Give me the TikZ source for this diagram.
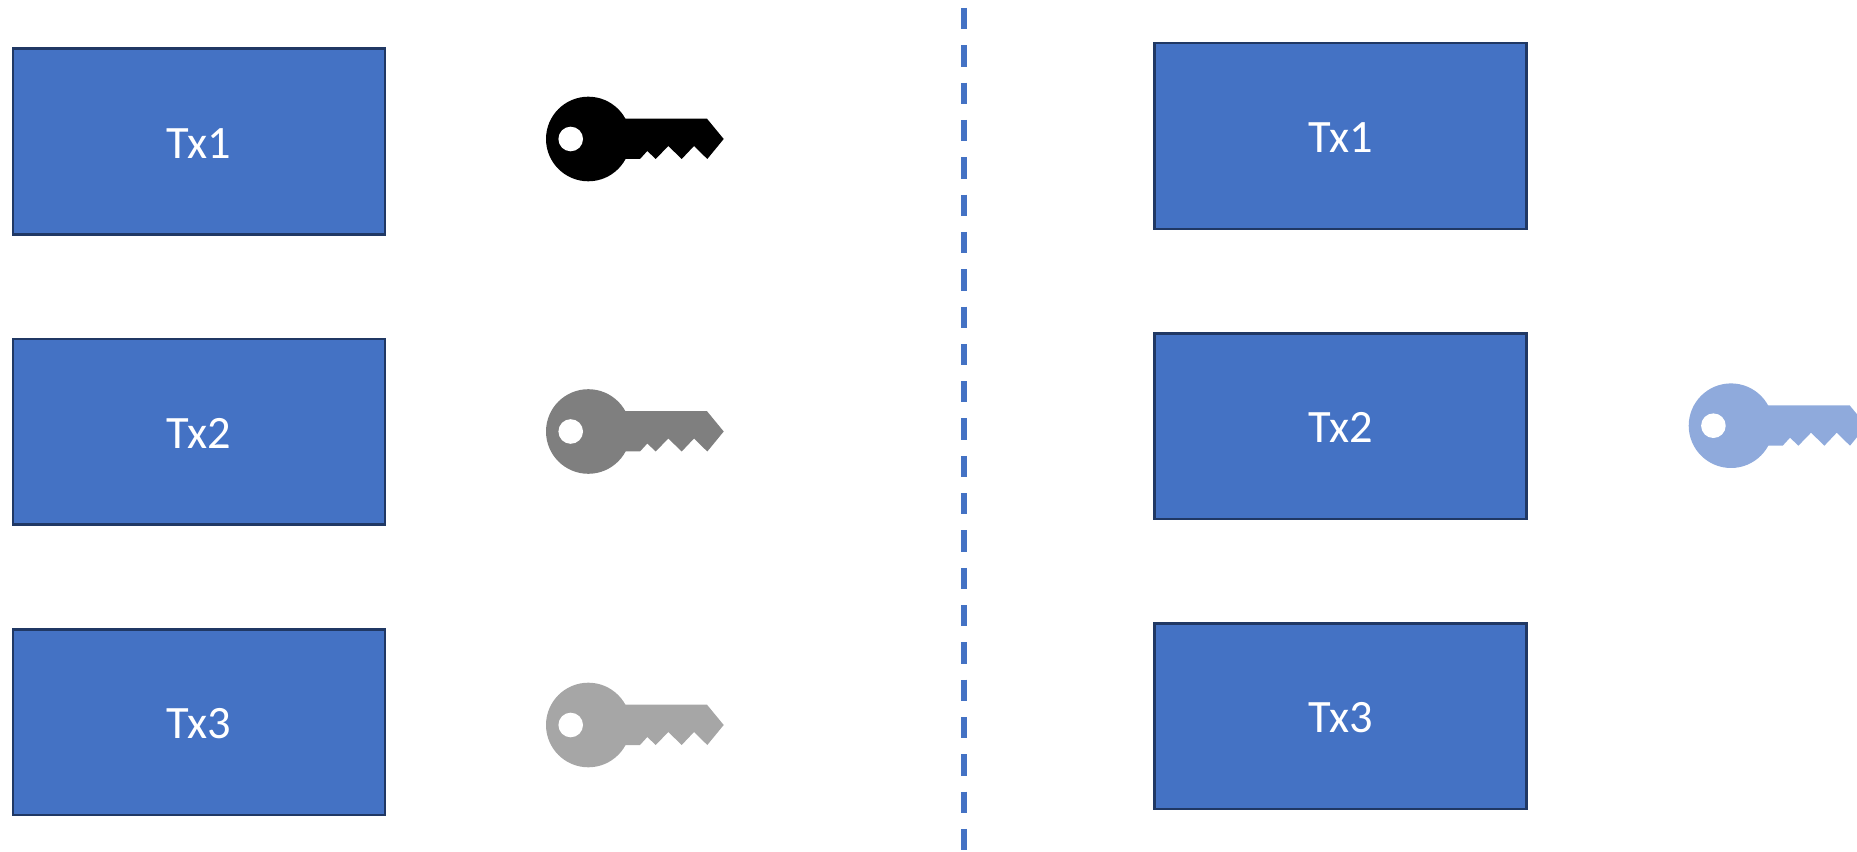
\documentclass[tikz,border=0pt]{standalone}
\usepackage{fontspec}
\setmainfont{Carlito}
\definecolor{txblue}{HTML}{4472C4}
\definecolor{txborder}{HTML}{203864}
\definecolor{keygray}{HTML}{7F7F7F}
\definecolor{keylight}{HTML}{A6A6A6}
\definecolor{keyblue}{HTML}{8FAADC}
\tikzset{
    txbox/.style={draw=txborder, line width=0.7pt, fill=txblue, text=white, minimum width=3.715cm, minimum height=1.855cm, text height=9.4pt, font=\fontsize{13.2}{16}\selectfont},
    keyicon/.pic={
        \fill[#1] (30,-20.3) -- (118.7,-20.3) -- (135.4,0) -- (119,20) -- (105.7,7) -- (93.4,20) -- (80,7) -- (67.4,20) -- (59,12) -- (51.7,20) -- (30,20) -- cycle;
        \fill[#1] (0,0) circle (42.3);
        \fill[white] (-17.6,0) circle (12.3);
    }
}
\begin{document}
\begin{tikzpicture}[x=0.01cm, y=-0.01cm]
    \clip (0,0) rectangle (1857,852);

    % Left column
    \node[txbox] (leftone) at (199,141.5) {Tx1};
    \node[txbox] (lefttwo) at (199,431.8) {Tx2};
    \node[txbox] (leftthree) at (199,722.3) {Tx3};

    % Keys of the left column
    \pic at (588.3,139) {keyicon=black};
    \pic at (588.3,431.5) {keyicon=keygray};
    \pic at (588.3,725) {keyicon=keylight};

    % Divider
    \coordinate (divtop) at (964,8);
    \coordinate (divbottom) at (964,850);
    \draw[txblue, line width=1.5pt, dash pattern=on 21.3*0.2845pt off 16*0.2845pt] (divtop) -- (divbottom);

    % Right column
    \node[txbox] (rightone) at (1340.5,136) {Tx1};
    \node[txbox] (righttwo) at (1340.5,426.3) {Tx2};
    \node[txbox] (rightthree) at (1340.5,716.3) {Tx3};

    % Key of the right column, runs off the edge
    \pic at (1731,425.7) {keyicon=keyblue};
\end{tikzpicture}
\end{document}
